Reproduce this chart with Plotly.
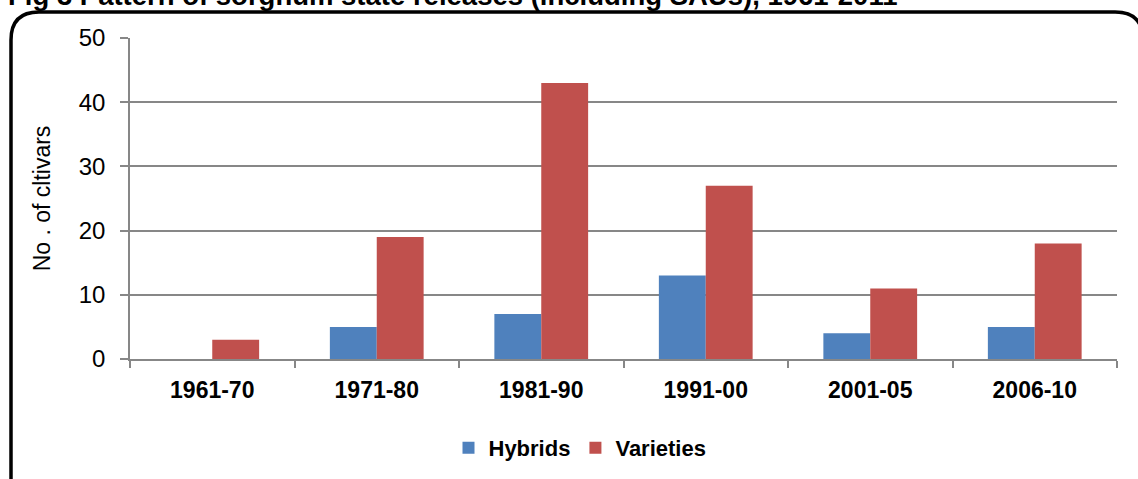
import plotly.graph_objects as go

periods = ["1961-70", "1971-80", "1981-90", "1991-00", "2001-05", "2006-10"]
hybrids = [None, 5, 7, 13, 4, 5]
varieties = [3, 19, 43, 27, 11, 18]
y_ticks = [0, 10, 20, 30, 40, 50]

title_text = "Fig 3 Pattern of sorghum state releases (including SAUs), 1961-2011"

W, H = 1138, 479
L, R, T, B = 130, 21, 38, 120
pw, ph = W - L - R, H - T - B


def px(x):
    return (x - L) / pw


def py(y):
    return (H - B - y) / ph


grid = "#878787"
font_fam = "Liberation Sans, Arial, sans-serif"

fig = go.Figure()
fig.add_trace(go.Bar(x=periods, y=hybrids, name="Hybrids", marker=dict(color="#4F81BD", line=dict(width=0))))
fig.add_trace(go.Bar(x=periods, y=varieties, name="Varieties", marker=dict(color="#C0504D", line=dict(width=0))))

# rounded frame around the chart (partly off the page, like the source)
r = 28
x0, y0, x1, y1 = 11, 12, 1143, 520
frame = (f"M {px(x0)},{py(y1)} L {px(x0)},{py(y0 + r)} "
         f"Q {px(x0)},{py(y0)} {px(x0 + r)},{py(y0)} "
         f"L {px(x1 - r)},{py(y0)} Q {px(x1)},{py(y0)} {px(x1)},{py(y0 + r)} "
         f"L {px(x1)},{py(y1)}")
fig.add_shape(type="path", path=frame, xref="paper", yref="paper",
              line=dict(color="black", width=3.5), layer="above")

fig.add_annotation(text=f"<b>{title_text}</b>", xref="paper", yref="paper",
                   x=px(6), y=py(-4), xanchor="left", yanchor="middle", showarrow=False,
                   font=dict(size=27.5, color="black", family=font_fam))

fig.update_layout(
    width=W, height=H,
    margin=dict(l=L, r=R, t=T, b=B, autoexpand=False),
    paper_bgcolor="white", plot_bgcolor="white",
    barmode="group", bargap=0.43, bargroupgap=0,
    font=dict(family=font_fam, color="black"),
    showlegend=True,
    legend=dict(orientation="h", x=px(580), y=py(448), xanchor="center", yanchor="middle",
                font=dict(size=22, family=font_fam, weight="bold"), itemwidth=30, tracegroupgap=0),
    xaxis=dict(
        type="category", automargin=False, showgrid=False, showline=True, linecolor=grid, linewidth=1.5,
        ticks="outside", tickson="boundaries", ticklen=7, tickcolor=grid, tickwidth=1.5,
        tickfont=dict(size=23, family=font_fam, weight="bold"), ticklabelstandoff=10,
    ),
    yaxis=dict(
        range=[0, 50], automargin=False, tickvals=y_ticks, showgrid=True, gridcolor=grid, gridwidth=1.5,
        showline=True, linecolor=grid, linewidth=1.5, zeroline=False,
        ticks="outside", ticklen=8, tickcolor=grid, tickwidth=1.5,
        tickfont=dict(size=24, family=font_fam), ticklabelstandoff=10,
        title=dict(text="No . of cltivars", font=dict(size=23, family=font_fam), standoff=22),
    ),
)

# drop the default page margin so the figure sits at the window's corner
fig.write_html("out.html", config={"displayModeBar": False},
               post_script="document.body.style.margin='0';")
